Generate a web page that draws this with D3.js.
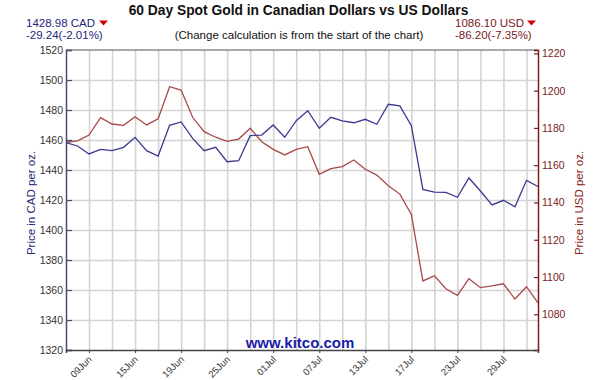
<!DOCTYPE html>
<html>
<head>
<meta charset="utf-8">
<script src="https://cdn.jsdelivr.net/npm/d3@7"></script>
<style>
  html, body { margin: 0; padding: 0; background: #fff; }
  svg { display: block; font-family: "Liberation Sans", Arial, sans-serif; }
</style>
</head>
<body>
<svg id="chart" width="599" height="380"></svg>
<script>
// ---- data ----
const dates = ["05Jun","08Jun","09Jun","10Jun","11Jun","12Jun","15Jun","16Jun","17Jun","18Jun","19Jun",
  "22Jun","23Jun","24Jun","25Jun","26Jun","29Jun","30Jun","01Jul","02Jul","03Jul","06Jul","07Jul","08Jul",
  "09Jul","10Jul","13Jul","14Jul","15Jul","16Jul","17Jul","20Jul","21Jul","22Jul","23Jul","24Jul","27Jul",
  "28Jul","29Jul","30Jul","31Jul","03Aug"];
const cadValues = [1458.22,1456.0,1450.7,1453.8,1452.9,1455.1,1461.8,1452.9,1449.3,1469.8,1472.0,
  1461.1,1452.9,1455.1,1445.5,1446.2,1462.9,1463.3,1470.0,1461.8,1472.9,1479.5,1467.8,1475.1,
  1472.7,1471.5,1473.8,1470.5,1483.8,1482.7,1469.5,1427.1,1425.3,1425.1,1421.8,1434.7,1426.0,
  1416.7,1419.8,1415.5,1433.1,1428.98];
const usdValues = [1172.3,1173.1,1176.2,1185.5,1182.1,1181.4,1186.0,1181.6,1184.9,1202.1,1200.3,
  1185.7,1178.0,1175.0,1172.8,1174.0,1179.8,1172.6,1168.5,1165.5,1168.5,1169.9,1155.1,1158.1,
  1159.2,1162.8,1157.8,1154.7,1149.0,1144.5,1133.6,1097.9,1100.7,1093.7,1090.2,1099.1,1094.3,
  1095.2,1096.4,1088.2,1094.8,1086.10];
const tickLabels = ["09Jun","15Jun","19Jun","25Jun","01Jul","07Jul","13Jul","17Jul","23Jul","29Jul"];
const gridDates = dates.filter((d, i) => i >= 2 && i % 2 === 0);
const cadTicks = [1320,1340,1360,1380,1400,1420,1440,1460,1480,1500,1520];
const usdTicks = [1080,1100,1120,1140,1160,1180,1200,1220];
const cadDomain = [1320, 1520];
const usdDomain = [1060.85, 1221.8];

const title = "60 Day Spot Gold in Canadian Dollars vs US Dollars";
const subtitle = "(Change calculation is from the start of the chart)";
const cadSummary = ["1428.98 CAD", "-29.24(-2.01%)"];
const usdSummary = ["1086.10 USD", "-86.20(-7.35%)"];

// ---- layout ----
const L = 66, R = 538, T = 50, B = 350;
const svg = d3.select("#chart");

const x = d3.scalePoint().domain(dates).range([L, R]);
const yL = d3.scaleLinear().domain(cadDomain).range([B, T]);
const yR = d3.scaleLinear().domain(usdDomain).range([B, T]);

// grid
const grid = svg.append("g");
grid.append("g").attr("transform", `translate(0,${B})`)
  .call(d3.axisBottom(x).tickValues(gridDates).tickSize(-(B - T)).tickFormat(""))
  .call(g => g.select(".domain").remove())
  .call(g => g.selectAll("line").attr("stroke", "#d4d4d4").attr("stroke-width", 1.6));
grid.append("g").attr("transform", `translate(${L},0)`)
  .call(d3.axisLeft(yL).tickValues(cadTicks.slice(1, -1)).tickSize(-(R - L)).tickFormat(""))
  .call(g => g.select(".domain").remove())
  .call(g => g.selectAll("line").attr("stroke", "#d4d4d4").attr("stroke-width", 1.6));

// top border
svg.append("line").attr("x1", L).attr("x2", R).attr("y1", T).attr("y2", T)
  .attr("stroke", "#555").attr("stroke-width", 1.2);

// lines
const lineCad = d3.line().x((d, i) => x(dates[i])).y(d => yL(d));
const lineUsd = d3.line().x((d, i) => x(dates[i])).y(d => yR(d));
svg.append("path").datum(usdValues).attr("d", lineUsd)
  .attr("fill", "none").attr("stroke", "#a84848").attr("stroke-width", 1.3);
svg.append("path").datum(cadValues).attr("d", lineCad)
  .attr("fill", "none").attr("stroke", "#3a3a8e").attr("stroke-width", 1.3);

// left axis
svg.append("g").attr("transform", `translate(${L},0)`)
  .call(d3.axisLeft(yL).tickValues(cadTicks).tickSize(-6).tickPadding(3).tickFormat(d3.format("d")))
  .call(g => g.select(".domain").attr("stroke", "#4a4a6a").attr("stroke-width", 1.5))
  .call(g => g.selectAll(".tick line").attr("stroke", "#4a4a6a").attr("stroke-width", 1.2))
  .call(g => g.selectAll("text").attr("fill", "#333").attr("font-size", "10.5px")
      .attr("font-family", "Liberation Sans, Arial, sans-serif"));

// right axis
svg.append("g").attr("transform", `translate(${R},0)`)
  .call(d3.axisRight(yR).tickValues(usdTicks).tickSize(-4).tickPadding(4).tickFormat(d3.format("d")))
  .call(g => g.select(".domain").attr("stroke", "#7a1c1c").attr("stroke-width", 1.5))
  .call(g => g.selectAll(".tick line").attr("stroke", "#7a1c1c").attr("stroke-width", 1.2))
  .call(g => g.selectAll("text").attr("fill", "#7a2222").attr("font-size", "10.5px")
      .attr("font-family", "Liberation Sans, Arial, sans-serif"));

// bottom axis
svg.append("g").attr("transform", `translate(0,${B})`)
  .call(d3.axisBottom(x).tickValues(tickLabels).tickSize(3).tickFormat(d => d))
  .call(g => g.select(".domain").attr("stroke", "#444").attr("stroke-width", 1.5))
  .call(g => g.selectAll(".tick line").attr("stroke", "#444"))
  .call(g => g.selectAll("text").attr("fill", "#333").attr("font-size", "9.5px")
      .attr("font-family", "Liberation Sans, Arial, sans-serif")
      .attr("text-anchor", "end").attr("x", 0).attr("y", 0).attr("dy", "0")
      .attr("transform", "translate(3,10) rotate(-45)"));

// axis titles
svg.append("text").attr("transform", `translate(35,${(T + B) / 2 + 3}) rotate(-90)`)
  .attr("text-anchor", "middle").attr("font-size", "11.5px").attr("fill", "#2a2a78")
  .text("Price in CAD per oz.");
svg.append("text").attr("transform", `translate(583,${(T + B) / 2 + 3}) rotate(-90)`)
  .attr("text-anchor", "middle").attr("font-size", "11.5px").attr("fill", "#8a2222")
  .text("Price in USD per oz.");

// titles
svg.append("text").attr("x", 298.5).attr("y", 15).attr("text-anchor", "middle")
  .attr("font-size", "13.8px").attr("font-weight", "bold").attr("fill", "#111").text(title);
svg.append("text").attr("x", 299).attr("y", 39).attr("text-anchor", "middle")
  .attr("font-size", "11.5px").attr("fill", "#111").text(subtitle);

// summaries
svg.append("text").attr("x", 26).attr("y", 27).attr("font-size", "11.5px").attr("fill", "#25257a").text(cadSummary[0]);
svg.append("text").attr("x", 26).attr("y", 39).attr("font-size", "11.5px").attr("fill", "#25257a").text(cadSummary[1]);
svg.append("path").attr("d", "M99,20.5 L108,20.5 L103.5,25.5 Z").attr("fill", "#d00000");

svg.append("text").attr("x", 455).attr("y", 27).attr("font-size", "11.5px").attr("fill", "#7a1a1a").text(usdSummary[0]);
svg.append("text").attr("x", 455).attr("y", 39).attr("font-size", "11.5px").attr("fill", "#7a1a1a").text(usdSummary[1]);
svg.append("path").attr("d", "M527,20.5 L536,20.5 L531.5,25.5 Z").attr("fill", "#d00000");

// watermark
svg.append("text").attr("x", 300).attr("y", 348).attr("text-anchor", "middle")
  .attr("font-size", "15px").attr("font-weight", "bold").attr("fill", "#1c1caa").text("www.kitco.com");
</script>
</body>
</html>
